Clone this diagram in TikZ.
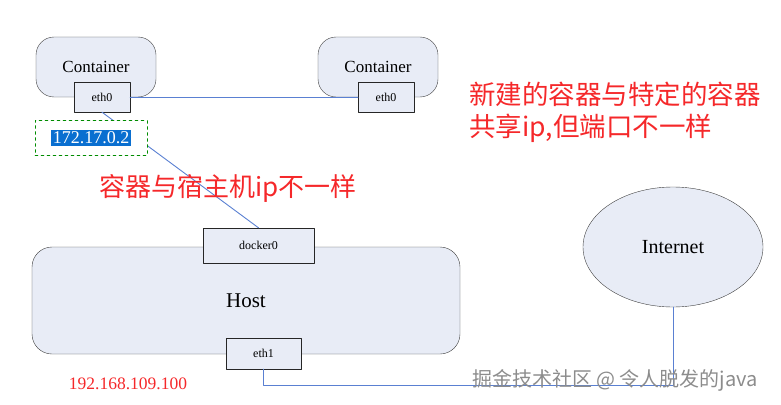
\documentclass[tikz,border=0pt]{standalone}
\usepackage{fontspec}
\usetikzlibrary{shapes.geometric}
\setmainfont{Liberation Serif}
\newfontfamily\cjk{Noto Sans CJK SC}
\definecolor{boxfill}{HTML}{E8ECF6}
\definecolor{wireblue}{HTML}{5A80D2}
\definecolor{notered}{HTML}{F5282A}
\definecolor{ipblue}{HTML}{0A6FD0}
\tikzset{
  pod/.style={draw=black!75,fill=boxfill,rounded corners=18pt,minimum width=120pt,minimum height=60pt,inner sep=0pt,font=\fontsize{17}{20}\selectfont},
  port/.style={draw=black!85,fill=boxfill,minimum width=56pt,minimum height=30pt,inner sep=0pt,font=\fontsize{12}{14}\selectfont},
  wire/.style={draw=wireblue,line width=0.9pt},
  note/.style={text=notered,font=\cjk\fontsize{26}{32}\selectfont,align=left,inner sep=0pt}
}
\begin{document}
\begin{tikzpicture}[x=1pt,y=-1pt,line cap=round,line join=round]
  \useasboundingbox (0,0) rectangle (781,404);
  % containers
  \node[pod] (pod1) at (96,67) {Container};
  \node[pod] (pod2) at (378,67) {Container};
  \node[port] (eth0a) at (102,97) {eth0};
  \node[port] (eth0b) at (386,97) {eth0};
  % host
  \node[pod,rounded corners=20pt,minimum width=428pt,minimum height=107pt,font=\fontsize{21}{24}\selectfont] (host) at (246,300.5) {Host};
  \node[port,minimum width=111pt,minimum height=35pt] (docker0) at (258.5,245.5) {docker0};
  \node[port,minimum width=75pt,minimum height=31pt] (eth1) at (263.5,353.5) {eth1};
  \node[draw=black!75,fill=boxfill,ellipse,minimum width=180pt,minimum height=120pt,inner sep=0pt,font=\fontsize{20}{24}\selectfont] (net) at (673,247) {Internet};
  % links
  \draw[wire] (eth0a.east) -- (eth0b.west);
  \draw[wire] (eth0a.south) -- (docker0.north);
  \draw[wire] (eth1.south) -- ++(0,16) -| (net.south);
  \node[draw=green!55!black,dashed,fill=white,minimum width=112pt,minimum height=35pt,inner sep=0pt] (ipbox) at (91,138) {};
  \node[fill=ipblue,text=white,inner sep=1.5pt,font=\fontsize{18}{20}\selectfont] (ip) at (ipbox.center) {172.17.0.2};
  % notes
  \node[note] (note1) at (228,188) {容器与宿主机ip不一样};
  \node[note,anchor=north west,font=\cjk\fontsize{26.5}{32}\selectfont] (note2) at (469,82) {新建的容器与特定的容器\\共享ip,但端口不一样};
  \node[text=notered,font=\fontsize{17.5}{20}\selectfont] (hostip) at (128,384) {192.168.109.100};
  \node[text=black!45,font=\cjk\fontsize{20}{22}\selectfont] (mark) at (615,380) {掘金技术社区 @ 令人脱发的java};
\end{tikzpicture}
\end{document}
